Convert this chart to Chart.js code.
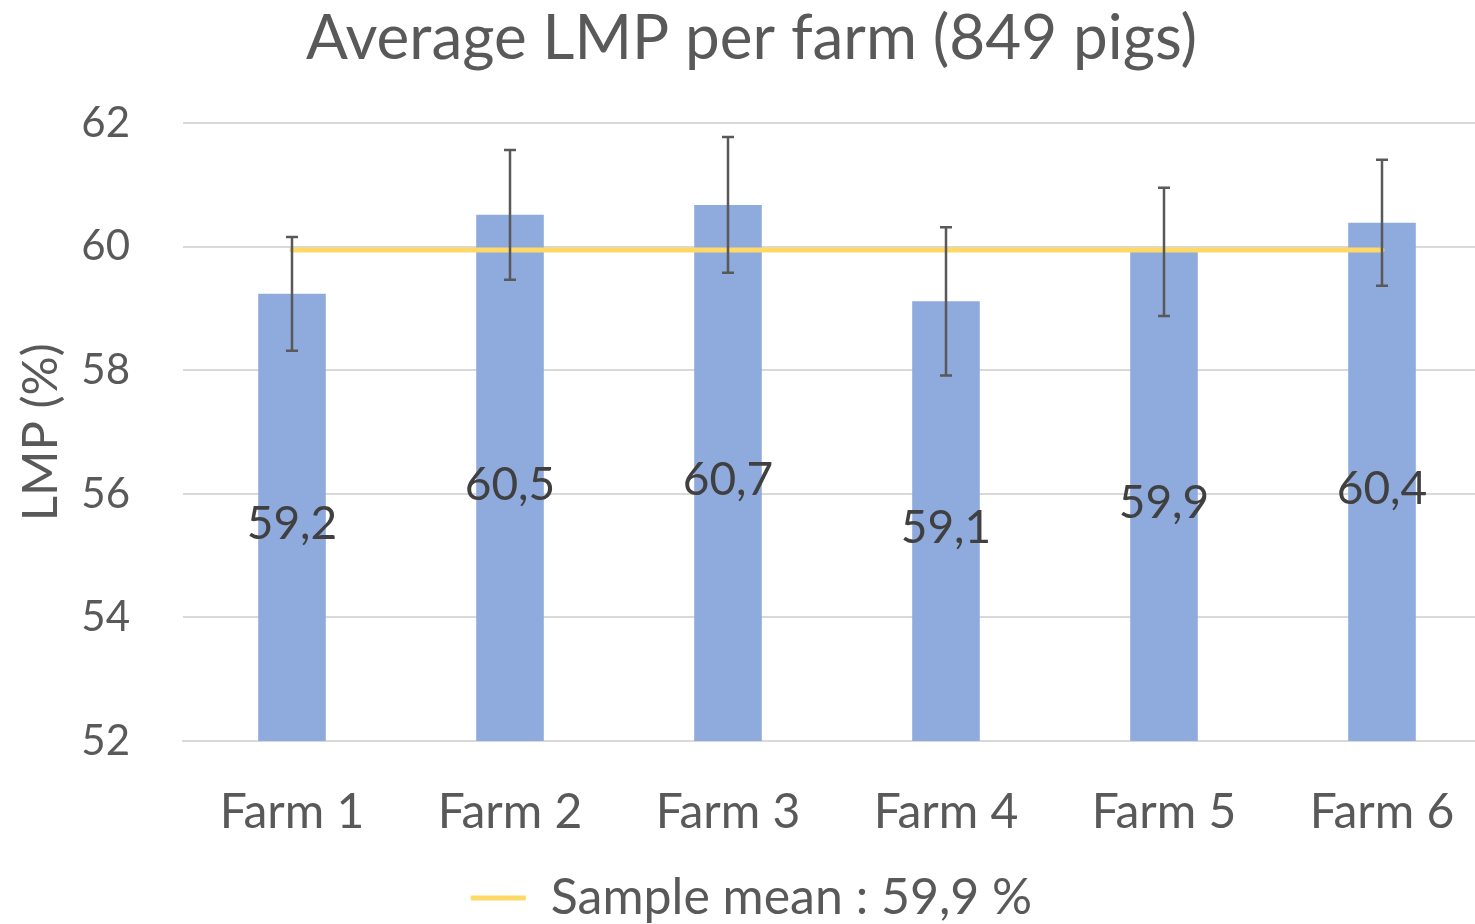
<!DOCTYPE html>
<html>
<head>
<meta charset="utf-8">
<script src="https://cdn.jsdelivr.net/npm/chart.js@4.4.0/dist/chart.umd.min.js"></script>
<style>
  html, body { margin: 0; padding: 0; background: #fff; overflow: hidden; }
  #wrap { width: 1491px; height: 924px; }
</style>
</head>
<body>
<div id="wrap"><canvas id="chart"></canvas></div>
<script>
var farms = ['Farm 1', 'Farm 2', 'Farm 3', 'Farm 4', 'Farm 5', 'Farm 6'];
var lmpMeans = [59.24, 60.52, 60.68, 59.12, 59.92, 60.39];
var lmpLabels = ['59,2', '60,5', '60,7', '59,1', '59,9', '60,4'];
var lmpErrors = [0.92, 1.05, 1.1, 1.2, 1.04, 1.02];
var sampleMean = [59.95, 59.95, 59.95, 59.95, 59.95, 59.95];

var fontFamily = 'Lato, "Open Sans", sans-serif';
var textColor = '#595959';

// error bars on top of bars and mean line, then value labels
const errorBars = {
    id: 'errorBars',
    afterDatasetsDraw(chart) {
        const meta = chart.getDatasetMeta(1);
        const y = chart.scales.y;
        const c = chart.ctx;
        const base = y.getPixelForValue(y.min);
        c.save();
        c.strokeStyle = '#595959';
        c.lineWidth = 2.5;
        meta.data.forEach((bar, i) => {
            const top = y.getPixelForValue(lmpMeans[i] + lmpErrors[i]);
            const bot = y.getPixelForValue(lmpMeans[i] - lmpErrors[i]);
            c.beginPath();
            c.moveTo(bar.x, top); c.lineTo(bar.x, bot);
            c.moveTo(bar.x - 6, top); c.lineTo(bar.x + 6, top);
            c.moveTo(bar.x - 6, bot); c.lineTo(bar.x + 6, bot);
            c.stroke();
        });
        c.fillStyle = '#404040';
        c.font = '46px Lato, sans-serif';
        c.textAlign = 'center';
        c.textBaseline = 'middle';
        meta.data.forEach((bar, i) => {
            const top = y.getPixelForValue(lmpMeans[i]);
            c.fillText(lmpLabels[i], bar.x, (top + base) / 2 + 7);
        });
        c.restore();
    }
};

const ctx = document.getElementById('chart').getContext('2d');
var chart = new Chart(ctx, {
    data: {
        labels: farms,
        datasets: [{
            type: 'line',
            label: 'Sample mean : 59,9 %',
            data: sampleMean,
            borderColor: '#FFD966',
            backgroundColor: '#FFD966',
            borderWidth: 5,
            borderCapStyle: 'round',
            pointRadius: 0,
            order: 0
        }, {
            type: 'bar',
            label: 'LMP',
            data: lmpMeans,
            backgroundColor: '#8FAADC',
            barPercentage: 0.31,
            categoryPercentage: 1,
            order: 1
        }]
    },
    options: {
        responsive: true,
        maintainAspectRatio: false,
        animation: false,
        layout: { padding: { left: 12, right: 0, top: 0, bottom: -9 } },
        scales: {
            x: {
                grid: { display: false },
                border: { color: '#D9D9D9', width: 2 },
                ticks: { color: textColor, font: { family: fontFamily, size: 48 }, padding: 35 },
                afterFit: scale => { scale.height = 130; }
            },
            y: {
                min: 52,
                max: 62,
                ticks: { stepSize: 2, color: textColor, font: { family: fontFamily, size: 42 }, padding: 53 },
                grid: { color: '#D9D9D9', lineWidth: 2, drawTicks: false },
                border: { display: false },
                title: { display: true, text: 'LMP (%)', color: textColor, font: { family: fontFamily, size: 49 }, padding: 0 },
                afterFit: scale => { scale.width = 171; }
            }
        },
        plugins: {
            title: {
                display: true,
                text: 'Average LMP per farm (849 pigs)',
                color: textColor,
                font: { family: fontFamily, size: 62, weight: 'normal' },
                padding: { top: 2, bottom: 47 }
            },
            legend: {
                position: 'bottom',
                labels: {
                    filter: item => item.datasetIndex === 0,
                    color: textColor,
                    font: { family: fontFamily, size: 50 },
                    usePointStyle: true,
                    pointStyle: 'line',
                    pointStyleWidth: 55,
                    padding: 2
                }
            },
            tooltip: { enabled: false }
        }
    },
    plugins: [errorBars]
});
</script>
</body>
</html>
